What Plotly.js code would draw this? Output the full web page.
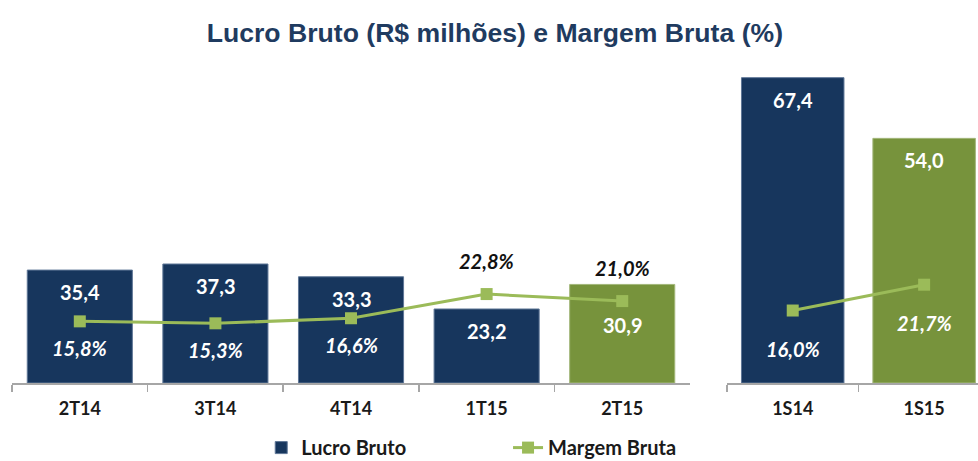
<!DOCTYPE html>
<html>
<head>
<meta charset="utf-8">
<script src="https://cdn.plot.ly/plotly-3.0.1.min.js"></script>
<style>html,body{margin:0;padding:0;background:#fff;}#chart{width:978px;height:461px;}</style>
</head>
<body>
<div id="chart"></div>
<script>
// ---- Data ----
const categoriesQ = ['2T14', '3T14', '4T14', '1T15', '2T15'];
const lucroQ = [35.4, 37.3, 33.3, 23.2, 30.9];
const margemQ = [15.8, 15.3, 16.6, 22.8, 21.0];
const categoriesS = ['1S14', '1S15'];
const lucroS = [67.4, 54.0];
const margemS = [16.0, 21.7];
const seriesNames = ['Lucro Bruto', 'Margem Bruta'];
const chartTitle = 'Lucro Bruto (R$ milhões) e Margem Bruta (%)';

// ---- Styles ----
const NAVY = '#17365D', GREEN = '#77933C', LINE = '#9BBB59';
const barColorsQ = [NAVY, NAVY, NAVY, NAVY, GREEN];
const barColorsS = [NAVY, GREEN];
const barEdgeQ = ['#5f7797', '#5f7797', '#5f7797', '#5f7797', '#a3b77a'];
const barEdgeS = ['#5f7797', '#a3b77a'];
const marginPosQ = ['below', 'below', 'below', 'above', 'above'];
const marginPosS = ['below', 'below'];
const barLabelDropQ = [0, 0, 0, 0, 19];
const barLabelDropS = [0, 0];

const fmt = v => v.toFixed(1).replace('.', ',');
const FONT = 'Lato, "Open Sans", sans-serif';

const traces = [
  {type: 'bar', x: categoriesQ, y: lucroQ, xaxis: 'x', yaxis: 'y', name: seriesNames[0],
   width: 0.775, marker: {color: barColorsQ, line: {color: barEdgeQ, width: 1}},
   legend: 'legend', showlegend: true, hoverinfo: 'skip'},
  {type: 'scatter', mode: 'lines+markers', x: categoriesQ, y: margemQ, xaxis: 'x', yaxis: 'y2',
   name: seriesNames[1], line: {color: LINE, width: 3},
   marker: {symbol: 'square', size: 12, color: LINE},
   legend: 'legend2', showlegend: true, hoverinfo: 'skip'},
  {type: 'bar', x: categoriesS, y: lucroS, xaxis: 'x2', yaxis: 'y3', name: seriesNames[0],
   width: 0.78, marker: {color: barColorsS, line: {color: barEdgeS, width: 1}},
   showlegend: false, hoverinfo: 'skip'},
  {type: 'scatter', mode: 'lines+markers', x: categoriesS, y: margemS, xaxis: 'x2', yaxis: 'y4',
   name: seriesNames[1], line: {color: LINE, width: 3},
   marker: {symbol: 'square', size: 12, color: LINE},
   showlegend: false, hoverinfo: 'skip'}
];

const annotations = [];
function barLabels(cats, vals, drops, xr, yr) {
  cats.forEach((c, i) => annotations.push({
    x: c, y: vals[i], xref: xr, yref: yr, text: fmt(vals[i]), showarrow: false,
    yanchor: 'middle', yshift: -22 - drops[i],
    font: {family: FONT, size: 20, weight: 'bold', color: '#ffffff'}
  }));
}
function marginLabels(cats, vals, pos, xr, yr, belowShift) {
  cats.forEach((c, i) => annotations.push({
    x: c, y: vals[i], xref: xr, yref: yr, text: fmt(vals[i]) + '%', showarrow: false,
    yanchor: 'middle', yshift: pos[i] === 'above' ? 33 : belowShift,
    font: {family: FONT, size: 20, weight: 'bold', style: 'italic',
           color: pos[i] === 'above' ? '#111111' : '#ffffff'}
  }));
}
barLabels(categoriesQ, lucroQ, barLabelDropQ, 'x', 'y');
barLabels(categoriesS, lucroS, barLabelDropS, 'x2', 'y3');
marginLabels(categoriesQ, margemQ, marginPosQ, 'x', 'y2', -27);
marginLabels(categoriesS, margemS, marginPosS, 'x2', 'y4', -38);

const xCommon = {
  type: 'category', showline: true, linecolor: '#A6A6A6', linewidth: 1.5,
  ticks: 'outside', tickson: 'boundaries', ticklen: 7, tickcolor: '#A6A6A6', tickwidth: 1.5,
  tickfont: {family: FONT, size: 18, weight: 'bold', color: '#1a1a1a'},
  ticklabelstandoff: 9, showgrid: false, zeroline: false, fixedrange: true
};
const yHidden = {visible: false, showgrid: false, zeroline: false, fixedrange: true};
const legendFont = {family: FONT, size: 20, weight: 'bold', color: '#1a1a1a'};

const layout = {
  width: 978, height: 461,
  margin: {l: 12, r: 0, t: 60, b: 78, autoexpand: false},
  paper_bgcolor: '#ffffff', plot_bgcolor: 'rgba(0,0,0,0)',
  title: {text: chartTitle, x: 0.506, xanchor: 'center', yref: 'container', y: 1 - 33 / 461, yanchor: 'middle',
          font: {family: '"Liberation Sans", Arial, sans-serif', size: 26.6, weight: 'bold', color: '#1F3B60'}},
  xaxis: Object.assign({}, xCommon, {domain: [0, 0.7019], anchor: 'y', range: [-0.5, 4.5]}),
  xaxis2: Object.assign({}, xCommon, {domain: [0.7402, 1], anchor: 'y3', range: [-0.5, 1.41]}),
  yaxis: Object.assign({}, yHidden, {domain: [0, 1], anchor: 'x', range: [0, 101.25]}),
  yaxis2: Object.assign({}, yHidden, {overlaying: 'y', anchor: 'x', range: [0, 82.8]}),
  yaxis3: Object.assign({}, yHidden, {domain: [0, 1], anchor: 'x2', range: [0, 71.3]}),
  yaxis4: Object.assign({}, yHidden, {overlaying: 'y3', anchor: 'x2', range: [0, 71.3]}),
  showlegend: true,
  legend: {orientation: 'h', x: 0.258, xanchor: 'left', y: -0.2, yanchor: 'middle',
           font: legendFont, bgcolor: 'rgba(0,0,0,0)'},
  legend2: {orientation: 'h', x: 0.5135, xanchor: 'left', y: -0.2, yanchor: 'middle',
           font: legendFont, bgcolor: 'rgba(0,0,0,0)'},
  annotations: annotations,
  bargap: 0.2
};

Plotly.newPlot('chart', traces, layout, {displayModeBar: false, staticPlot: true});
</script>
</body>
</html>
